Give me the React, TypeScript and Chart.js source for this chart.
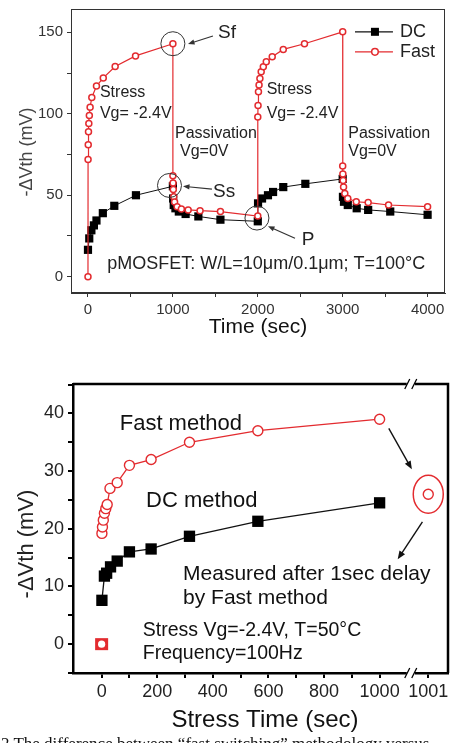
import React, { useEffect, useRef } from "react";
import { Chart, registerables } from "chart.js";
Chart.register(...registerables);

const RED = "#e32b2f";
const FONT = '"Liberation Sans", Arial, Helvetica, sans-serif';

// ---------- Upper panel: stress / passivation cycles ----------
const cycleFastTime = [
  0, 1, 3, 6, 10, 16, 25, 45, 100, 180, 320, 560, 1000,
  1000, 1002, 1005, 1010, 1020, 1050, 1100, 1180, 1320, 1560, 2000,
  2000, 2003, 2008, 2015, 2025, 2040, 2065, 2100, 2170, 2300, 2550, 3000,
  3000, 3002, 3005, 3010, 3025, 3060, 3160, 3300, 3540, 4000,
];
const cycleFastShift = [
  0, 72, 81, 89, 94, 99, 104, 110, 117, 122, 129, 135.5, 143,
  62, 57.5, 53.5, 49, 45.8, 43, 41.5, 41, 40.5, 40, 37.2,
  98, 105, 113.5, 117.6, 121.7, 125.8, 128.8, 132, 135, 139.5, 143, 150.3,
  68, 63, 59, 55, 51, 48, 46, 45.5, 44, 43,
];
const cycleDcTime = [
  0, 15, 40, 70, 100, 175, 310, 565, 1000,
  1003, 1010, 1030, 1070, 1150, 1300, 1560, 2000,
  2003, 2050, 2120, 2180, 2300, 2560, 3000,
  3003, 3015, 3060, 3165, 3300, 3560, 4000,
];
const cycleDcShift = [
  16.5, 23.5, 28.5, 31.5, 34.5, 39, 43.5, 50, 55.5,
  48, 44, 42, 40, 38.5, 37, 35, 34,
  45, 48, 50, 52, 55, 57, 60,
  49, 46, 44, 42, 41, 40, 38,
];
const cycleXTicks = [0, 500, 1000, 1500, 2000, 2500, 3000, 3500, 4000];
const cycleXLabels = ["0", "", "1000", "", "2000", "", "3000", "", "4000"];
const cycleYTicks = [0, 25, 50, 75, 100, 125, 150];
const cycleYLabels = ["0", "", "50", "", "100", "", "150"];

// ---------- Lower panel: DC vs fast method ----------
const stressFastTime = [1, 3, 6, 10, 15, 20, 30, 56, 100, 178, 316, 562, 1000];
const stressFastShift = [19.2, 20.3, 21.5, 22.7, 23.5, 24.2, 27, 28, 31, 32, 35, 37, 39];
const stressDcTime = [1, 10, 18, 32, 56, 100, 178, 316, 562, 1000];
const stressDcShift = [7.6, 11.8, 12.3, 13.4, 14.4, 16, 16.5, 18.7, 21.3, 24.5];
const delayedTime = [1001];
const delayedShift = [26];
const stressXTicks = [0, 100, 200, 300, 400, 500, 600, 700, 800, 900, 1000, 1001];
const stressXLabels = ["0", "", "200", "", "400", "", "600", "", "800", "", "1000", "1001"];
const stressYTicks = [-5, 0, 5, 10, 15, 20, 25, 30, 35, 40, 45];
const stressYLabels = ["", "0", "", "10", "", "20", "", "30", "", "40", ""];

// broken time axis: after the break, one second gets a wide segment
const axisPos = (t: number) => (t <= 1000 ? t : 1000 + (t - 1000) * 175);
const BREAK_POS = 1112;

function arrow(ctx: CanvasRenderingContext2D, x1: number, y1: number, x2: number, y2: number, color: string, lw: number, head: number) {
  const a = Math.atan2(y2 - y1, x2 - x1);
  ctx.save();
  ctx.strokeStyle = color;
  ctx.fillStyle = color;
  ctx.lineWidth = lw;
  ctx.beginPath();
  ctx.moveTo(x1, y1);
  ctx.lineTo(x2 - head * 0.7 * Math.cos(a), y2 - head * 0.7 * Math.sin(a));
  ctx.stroke();
  ctx.beginPath();
  ctx.moveTo(x2, y2);
  ctx.lineTo(x2 - head * Math.cos(a - 0.38), y2 - head * Math.sin(a - 0.38));
  ctx.lineTo(x2 - head * Math.cos(a + 0.38), y2 - head * Math.sin(a + 0.38));
  ctx.closePath();
  ctx.fill();
  ctx.restore();
}

function text(ctx: CanvasRenderingContext2D, s: string, x: number, y: number, size: number, color: string, align: CanvasTextAlign = "left") {
  ctx.save();
  ctx.font = `${size}px ${FONT}`;
  ctx.fillStyle = color;
  ctx.textAlign = align;
  ctx.textBaseline = "middle";
  ctx.fillText(s, x, y);
  ctx.restore();
}

function fixAxis(size: number, horizontal: boolean) {
  return (s: any) => {
    if (horizontal) s.height = size;
    else s.width = size;
    s.paddingTop = 0;
    s.paddingBottom = 0;
    s.paddingLeft = 0;
    s.paddingRight = 0;
  };
}

const topNotes = [
  { t: "Stress", x: 141, y: 113, s: 16 },
  { t: "Vg= -2.4V", x: 141, y: 100.2, s: 16 },
  { t: "Stress", x: 2105, y: 115, s: 16 },
  { t: "Vg= -2.4V", x: 2105, y: 100.2, s: 16 },
  { t: "Passivation", x: 1025, y: 88, s: 16 },
  { t: "Vg=0V", x: 1084, y: 76.7, s: 16 },
  { t: "Passivation", x: 3066, y: 88, s: 16 },
  { t: "Vg=0V", x: 3066, y: 76.7, s: 16 },
  { t: "Sf", x: 1531, y: 149.5, s: 19 },
  { t: "Ss", x: 1472, y: 52, s: 19 },
  { t: "P", x: 2517, y: 22.5, s: 19 },
  { t: "pMOSFET: W/L=10\u03bcm/0.1\u03bcm; T=100\u00b0C", x: 227, y: 7.8, s: 18 },
];
const topRings = [
  { x: 1000, y: 143 },
  { x: 960, y: 56 },
  { x: 1990, y: 36 },
];
const topArrows = [
  { x1: 1472, y1: 147.7, x2: 1178, y2: 142.8 },
  { x1: 1460, y1: 53.7, x2: 1119, y2: 55.5 },
  { x1: 2438, y1: 23.6, x2: 2120, y2: 31 },
];

const topDecor = {
  id: "topDecor",
  afterDraw(chart: any) {
    const { ctx, chartArea: a, scales } = chart;
    const px = (v: number) => scales.x.getPixelForValue(v);
    const py = (v: number) => scales.y.getPixelForValue(v);
    ctx.save();
    ctx.strokeStyle = "#333";
    ctx.lineWidth = 1;
    ctx.strokeRect(a.left + 0.5, a.top + 0.5, a.right - a.left - 1, a.bottom - a.top - 1);
    ctx.restore();
    for (const n of topNotes) text(ctx, n.t, px(n.x), py(n.y), n.s, "#222");
    ctx.save();
    ctx.strokeStyle = "#333";
    ctx.lineWidth = 1;
    for (const r of topRings) {
      ctx.beginPath();
      ctx.arc(px(r.x), py(r.y), 12, 0, Math.PI * 2);
      ctx.stroke();
    }
    ctx.restore();
    for (const r of topArrows) arrow(ctx, px(r.x1), py(r.y1), px(r.x2), py(r.y2), "#333", 1.2, 7);
    // legend
    const ly1 = py(150.3), ly2 = py(138);
    const lx1 = px(3145), lx2 = px(3592), lm = px(3380), lt = px(3674);
    ctx.save();
    ctx.lineWidth = 1.2;
    ctx.strokeStyle = "#111";
    ctx.beginPath(); ctx.moveTo(lx1, ly1); ctx.lineTo(lx2, ly1); ctx.stroke();
    ctx.fillStyle = "#000";
    ctx.fillRect(lm - 4, ly1 - 4, 8, 8);
    ctx.strokeStyle = RED;
    ctx.beginPath(); ctx.moveTo(lx1, ly2); ctx.lineTo(lx2, ly2); ctx.stroke();
    ctx.fillStyle = "#fff";
    ctx.lineWidth = 1.5;
    ctx.beginPath(); ctx.arc(lm, ly2, 3.3, 0, Math.PI * 2); ctx.fill(); ctx.stroke();
    ctx.restore();
    text(ctx, "DC", lt, ly1, 18, "#222");
    text(ctx, "Fast", lt, ly2, 18, "#222");
    // axis titles
    text(ctx, "Time (sec)", 258, 327, 21, "#111", "center");
    ctx.save();
    ctx.translate(27, 152);
    ctx.rotate(-Math.PI / 2);
    text(ctx, "-\u0394Vth (mV)", 0, 0, 18, "#444", "center");
    ctx.restore();
  },
};

const botNotes = [
  { t: "Fast method", x: 65, y: 38.2, s: 22 },
  { t: "DC method", x: 160, y: 24.8, s: 22 },
  { t: "Measured after 1sec delay", x: 293, y: 12.2, s: 21 },
  { t: "by Fast method", x: 293, y: 7.9, s: 21 },
  { t: "Stress Vg=-2.4V, T=50\u00b0C", x: 148, y: 2.3, s: 19.5 },
  { t: "Frequency=100Hz", x: 148, y: -1.6, s: 19.5 },
];
const botArrows = [
  { x1: 1033, y1: 37.4, x2: 1116, y2: 30.3 },
  { x1: 1154, y1: 21.2, x2: 1065, y2: 14.7 },
];

const botDecor = {
  id: "botDecor",
  afterDraw(chart: any) {
    const { ctx, chartArea: a, scales } = chart;
    const px = (v: number) => scales.x.getPixelForValue(v);
    const py = (v: number) => scales.y.getPixelForValue(v);
    ctx.save();
    ctx.strokeStyle = "#000";
    ctx.lineWidth = 2.5;
    ctx.beginPath();
    ctx.moveTo(a.left, a.top);
    ctx.lineTo(a.right, a.top);
    ctx.lineTo(a.right, a.bottom);
    ctx.stroke();
    // axis break marks
    const b = px(BREAK_POS);
    for (const yy of [a.top, a.bottom]) {
      ctx.fillStyle = "#fff";
      ctx.fillRect(b - 4, yy - 2, 8, 4);
      ctx.lineWidth = 1.3;
      ctx.beginPath();
      ctx.moveTo(b - 6, yy + 5); ctx.lineTo(b - 1, yy - 5);
      ctx.moveTo(b + 1, yy + 5); ctx.lineTo(b + 6, yy - 5);
      ctx.stroke();
    }
    ctx.restore();
    for (const n of botNotes) text(ctx, n.t, px(n.x), py(n.y), n.s, "#111");
    for (const r of botArrows) arrow(ctx, px(r.x1), py(r.y1), px(r.x2), py(r.y2), "#111", 1.4, 9);
    // ellipse around delayed measurement
    ctx.save();
    ctx.strokeStyle = RED;
    ctx.lineWidth = 1.5;
    ctx.beginPath();
    ctx.ellipse(px(axisPos(delayedTime[0])), py(delayedShift[0]), 15, 19, 0, 0, Math.PI * 2);
    ctx.stroke();
    // legend marker
    const mx = px(0), my = py(0);
    ctx.fillStyle = RED;
    ctx.fillRect(mx - 6.5, my - 6, 13, 12);
    ctx.fillStyle = "#fff";
    ctx.beginPath();
    ctx.arc(mx, my, 3.6, 0, Math.PI * 2);
    ctx.fill();
    ctx.restore();
    text(ctx, "Stress Time (sec)", 265, 345, 24, "#111", "center");
    ctx.save();
    ctx.translate(27, 169);
    ctx.rotate(-Math.PI / 2);
    text(ctx, "-\u0394Vth (mV)", 0, 0, 22, "#222", "center");
    ctx.restore();
  },
};

function TopChart() {
  const ref = useRef<HTMLCanvasElement>(null);
  useEffect(() => {
    const chart = new Chart(ref.current!, {
      type: "scatter",
      data: {
        datasets: [
          {
            label: "Fast",
            data: cycleFastTime.map((t, i) => ({ x: t, y: cycleFastShift[i] })),
            showLine: true,
            borderColor: RED,
            borderWidth: 1.2,
            pointStyle: "circle",
            pointRadius: 3,
            pointBorderWidth: 1.5,
            pointBackgroundColor: "#fff",
            pointBorderColor: RED,
          },
          {
            label: "DC",
            data: cycleDcTime.map((t, i) => ({ x: t, y: cycleDcShift[i] })),
            showLine: true,
            borderColor: "#111",
            borderWidth: 1,
            pointStyle: "rect",
            pointRadius: 5.8,
            pointBorderWidth: 0,
            pointBackgroundColor: "#000",
            pointBorderColor: "#000",
          },
        ],
      },
      options: {
        animation: false,
        responsive: false,
        events: [],
        layout: { padding: { top: 9, right: 11, left: 0, bottom: 0 } },
        plugins: { legend: { display: false }, tooltip: { enabled: false } },
        scales: {
          x: {
            type: "linear",
            min: -200,
            max: 4205,
            afterBuildTicks: (s: any) => { s.ticks = cycleXTicks.map((v) => ({ value: v })); },
            afterFit: fixAxis(52, true),
            ticks: {
              autoSkip: false,
              maxRotation: 0,
              padding: 4,
              color: "#333",
              font: { family: FONT, size: 15 },
              callback: (_v: any, i: number) => cycleXLabels[i],
            },
            grid: { display: true, drawOnChartArea: false, drawTicks: true, tickLength: 4, color: "#333", lineWidth: 1 },
            border: { display: true, color: "#333", width: 1 },
          },
          y: {
            type: "linear",
            min: -10,
            max: 164.3,
            afterBuildTicks: (s: any) => { s.ticks = cycleYTicks.map((v) => ({ value: v })); },
            afterFit: fixAxis(71, false),
            ticks: {
              autoSkip: false,
              padding: 4,
              color: "#333",
              font: { family: FONT, size: 15 },
              callback: (_v: any, i: number) => cycleYLabels[i],
            },
            grid: { display: true, drawOnChartArea: false, drawTicks: true, tickLength: 4, color: "#333", lineWidth: 1 },
            border: { display: true, color: "#333", width: 1 },
          },
        },
      },
      plugins: [topDecor],
    } as any);
    return () => chart.destroy();
  }, []);
  return (
    <canvas
      ref={ref}
      width={456}
      height={345}
      style={{ position: "absolute", left: 0, top: 0, width: 456, height: 345 }}
    />
  );
}

function BottomChart() {
  const ref = useRef<HTMLCanvasElement>(null);
  useEffect(() => {
    const chart = new Chart(ref.current!, {
      type: "scatter",
      data: {
        datasets: [
          {
            label: "Fast method",
            data: stressFastTime.map((t, i) => ({ x: axisPos(t), y: stressFastShift[i] })),
            showLine: true,
            borderColor: RED,
            borderWidth: 1.3,
            pointStyle: "circle",
            pointRadius: 5,
            pointBorderWidth: 1.4,
            pointBackgroundColor: "#fff",
            pointBorderColor: RED,
          },
          {
            label: "DC method",
            data: stressDcTime.map((t, i) => ({ x: axisPos(t), y: stressDcShift[i] })),
            showLine: true,
            borderColor: "#111",
            borderWidth: 1.3,
            pointStyle: "rect",
            pointRadius: 8,
            pointBorderWidth: 0,
            pointBackgroundColor: "#000",
            pointBorderColor: "#000",
          },
          {
            label: "Delayed",
            data: delayedTime.map((t, i) => ({ x: axisPos(t), y: delayedShift[i] })),
            showLine: false,
            pointStyle: "circle",
            pointRadius: 5,
            pointBorderWidth: 1.4,
            pointBackgroundColor: "#fff",
            pointBorderColor: RED,
          },
        ],
      },
      options: {
        animation: false,
        responsive: false,
        events: [],
        layout: { padding: { top: 9, right: 3, left: 0, bottom: 0 } },
        plugins: { legend: { display: false }, tooltip: { enabled: false } },
        scales: {
          x: {
            type: "linear",
            min: -103,
            max: 1246,
            afterBuildTicks: (s: any) => { s.ticks = stressXTicks.map((v) => ({ value: axisPos(v) })); },
            afterFit: fixAxis(70, true),
            ticks: {
              autoSkip: false,
              maxRotation: 0,
              padding: 3,
              color: "#222",
              font: { family: FONT, size: 18 },
              callback: (_v: any, i: number) => stressXLabels[i],
            },
            grid: { display: true, drawOnChartArea: false, drawTicks: true, tickLength: 5, color: "#000", lineWidth: 2 },
            border: { display: true, color: "#000", width: 2.5 },
          },
          y: {
            type: "linear",
            min: -5,
            max: 45.1,
            afterBuildTicks: (s: any) => { s.ticks = stressYTicks.map((v) => ({ value: v })); },
            afterFit: fixAxis(73, false),
            ticks: {
              autoSkip: false,
              padding: 4,
              color: "#222",
              font: { family: FONT, size: 18 },
              callback: (_v: any, i: number) => stressYLabels[i],
            },
            grid: { display: true, drawOnChartArea: false, drawTicks: true, tickLength: 5, color: "#000", lineWidth: 2 },
            border: { display: true, color: "#000", width: 2.5 },
          },
        },
      },
      plugins: [botDecor],
    } as any);
    return () => chart.destroy();
  }, []);
  return (
    <canvas
      ref={ref}
      width={456}
      height={368}
      style={{ position: "absolute", left: 0, top: 375, width: 456, height: 368 }}
    />
  );
}

export default function App() {
  return (
    <div
      style={{
        position: "absolute",
        left: 0,
        top: 0,
        width: 456,
        height: 743,
        overflow: "hidden",
        background: "#fff",
      }}
    >
      <TopChart />
      <BottomChart />
      <div
        style={{
          position: "absolute",
          left: 1,
          top: 735,
          whiteSpace: "nowrap",
          fontFamily: '"Liberation Serif", "Times New Roman", serif',
          fontSize: 17,
          lineHeight: "17px",
          color: "#111",
        }}
      >
        2 The difference between “fast switching” methodology versus
      </div>
    </div>
  );
}
